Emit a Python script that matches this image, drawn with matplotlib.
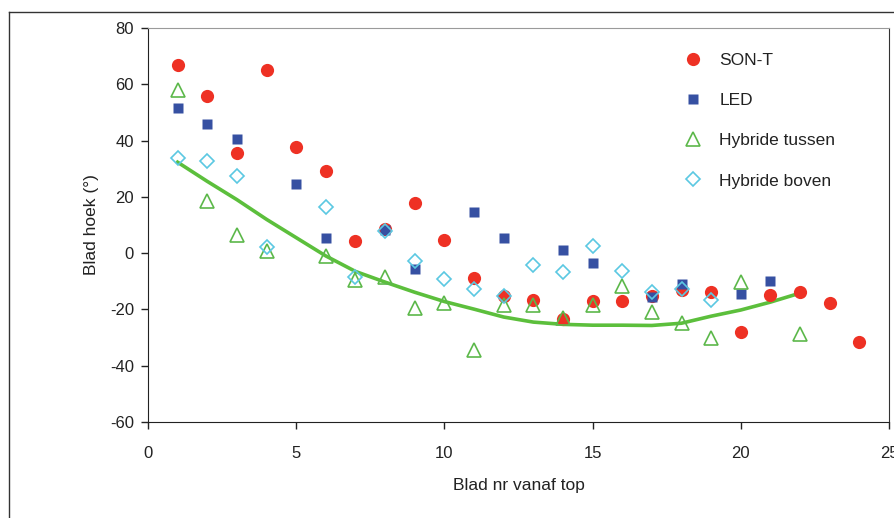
import matplotlib.pyplot as plt
from matplotlib.lines import Line2D
from matplotlib.ticker import FuncFormatter

plt.rcParams['font.family'] = ['Liberation Sans', 'DejaVu Sans']
plt.rcParams['axes.unicode_minus'] = False

# bladhoek per bladnummer, vier belichtingen
son_x = [1, 2, 3, 4, 5, 6, 7, 8, 9, 10, 11, 12, 13, 14, 15, 16, 17, 18, 19, 20, 21, 22, 23, 24]
son_y = [67, 55.8, 35.5, 65, 37.7, 29.1, 4.3, 8.5, 17.8, 4.6, -8.9, -15.3, -16.7, -23.4,
         -17, -17, -15.3, -13.1, -13.9, -28, -14.9, -13.9, -17.8, -31.6]

led_x = [1, 2, 3, 5, 6, 8, 9, 11, 12, 14, 15, 17, 18, 20, 21]
led_y = [51.5, 45.8, 40.5, 24.5, 5.3, 8.2, -5.7, 14.6, 5.3, 1.1, -3.6, -15.6, -11, -14.6, -9.9]

tus_x = [1, 2, 3, 4, 6, 7, 8, 9, 10, 11, 12, 13, 14, 15, 16, 17, 18, 19, 20, 22]
tus_y = [57.9, 18.5, 6.4, 0.7, -1.1, -9.6, -8.5, -19.5, -17.8, -34.5, -18.5, -18.5, -23.1,
         -18.5, -11.7, -21, -24.9, -30.2, -10.3, -28.8]

bov_x = [1, 2, 3, 4, 6, 7, 8, 9, 10, 11, 12, 13, 14, 15, 16, 17, 18, 19]
bov_y = [33.7, 32.7, 27.4, 2.1, 16.3, -8.5, 7.8, -2.8, -9.2, -12.8, -15.3, -4.3, -6.7,
         2.5, -6.4, -13.9, -12.8, -16.7]

# trendlijn hybride tussen
trend_x = list(range(1, 23))
trend_y = [32.3, 25.5, 19, 12, 5.5, -1, -6.5, -10.3, -13.9, -17.2, -19.9, -22.7, -24.5,
           -25.3, -25.6, -25.6, -25.7, -24.9, -22.4, -20.2, -17.4, -14.2]

fig = plt.figure(figsize=(8.95, 5.18), dpi=100)
ax = fig.add_axes([148 / 895, 1 - 422 / 518, 741 / 895, 394 / 518])

ax.plot(trend_x, trend_y, color='#5cbf3c', lw=2.6, zorder=2)
ax.plot(son_x, son_y, 'o', color='#ee3124', ms=9.5, mec='none', label='SON-T', zorder=3)
ax.plot(led_x, led_y, 's', color='#3650a2', ms=6.5, mec='none', label='LED', zorder=3)
ax.plot(tus_x, tus_y, '^', mfc='none', mec='#5cb84a', mew=1.2, ms=10, label='Hybride tussen', zorder=4)
ax.plot(bov_x, bov_y, 'D', mfc='none', mec='#5bc8e2', mew=1.2, ms=7, label='Hybride boven', zorder=4)

ax.set_xlim(0, 25)
ax.set_ylim(-60, 80)
ax.set_xticks(range(0, 26, 5))
ax.set_yticks(range(-60, 81, 20))
ax.yaxis.set_major_formatter(FuncFormatter(lambda v, p: '%d' % v))
ax.tick_params(direction='out', length=5, width=1, labelsize=12, colors='#222222')
ax.tick_params(axis='y', pad=5)
ax.tick_params(axis='x', pad=12.5)
ax.set_xlabel('Blad nr vanaf top', fontsize=12.5, color='#222222', labelpad=12)
ax.set_ylabel('Blad hoek (°)', fontsize=12.5, color='#222222', labelpad=8)

for s in ['left', 'bottom']:
    ax.spines[s].set_color('#222222')
ax.spines['top'].set_color('#9a9a9a')
ax.spines['right'].set_color('#333333')

leg = ax.legend(loc='upper left', bbox_to_anchor=(0.71, 0.96), frameon=False,
                fontsize=12.5, labelspacing=1.45, handletextpad=0.9, handlelength=1.2,
                borderpad=0)
for t in leg.get_texts():
    t.set_color('#222222')

# buitenkader rond de grafiek
fig.add_artist(Line2D([9.5 / 895, 9.5 / 895], [0, 1 - 12 / 518], color='#333333', lw=1))
fig.add_artist(Line2D([9.5 / 895, 1], [1 - 12 / 518, 1 - 12 / 518], color='#333333', lw=1))

fig.savefig('out.png', dpi=100)
